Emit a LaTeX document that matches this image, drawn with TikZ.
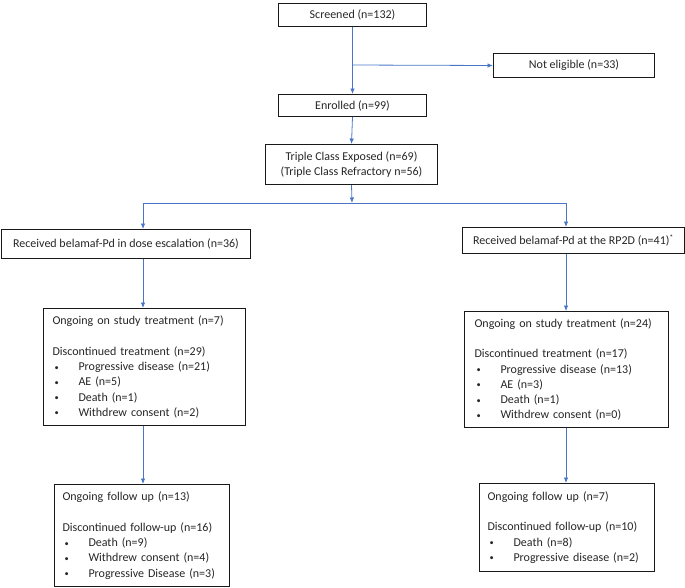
\documentclass[tikz,border=0pt]{standalone}
\usepackage{fontspec}
\setmainfont{Carlito}
\usetikzlibrary{arrows.meta,calc}
\definecolor{flow}{HTML}{4A76C8}
\newcommand{\bul}[1]{\makebox[26pt][l]{\hspace{2pt}\raisebox{0.5pt}{\scalebox{0.7}{•}}}#1}
\begin{document}
\begin{tikzpicture}[x=1pt,y=-1pt,
  box/.style={draw=black!90,line width=1pt,inner ysep=0pt,text=black!85,font=\fontsize{12}{15.3}\selectfont},
  cbox/.style={box,align=center,anchor=north west},
  lbox/.style={box,align=left,anchor=north west,inner xsep=#1},
  flowarrow/.style={draw=flow,line width=0.8pt,-{Latex[length=5.5pt,width=4.5pt]}},
  flowline/.style={draw=flow,line width=0.8pt}]
\useasboundingbox (0,0) rectangle (685,587);
\node[cbox,minimum width=148pt,minimum height=23pt] (scr) at (278,3) {Screened (n=132)};
\node[cbox,minimum width=161pt,minimum height=24pt] (ne) at (493,53) {Not eligible (n=33)};
\node[cbox,minimum width=148pt,minimum height=22pt] (enr) at (278,94) {Enrolled (n=99)};
\node[cbox,minimum width=172pt,minimum height=40pt] (tri) at (265,144) {Triple Class Exposed (n=69)\\(Triple Class Refractory n=56)};
\node[cbox,minimum width=249pt,minimum height=29pt] (lr) at (1,229) {Received belamaf-Pd in dose escalation (n=36)};
\node[cbox,minimum width=222pt,minimum height=26pt] (rr) at (462,227) {Received belamaf-Pd at the RP2D (n=41)\textsuperscript{*}};
\node[lbox=9pt,text width=184pt,minimum height=117pt] (lo) at (43,308) {Ongoing on study treatment (n=7)\\[15.3pt]Discontinued treatment (n=29)\\\bul{Progressive disease (n=21)}\\\bul{AE (n=5)}\\\bul{Death (n=1)}\\\bul{Withdrew consent (n=2)}};
\node[lbox=10pt,text width=184pt,minimum height=116pt] (ro) at (464,311) {Ongoing on study treatment (n=24)\\[15.3pt]Discontinued treatment (n=17)\\\bul{Progressive disease (n=13)}\\\bul{AE (n=3)}\\\bul{Death (n=1)}\\\bul{Withdrew consent (n=0)}};
\node[lbox=8pt,text width=159pt,minimum height=102pt] (lf) at (54,484) {Ongoing follow up (n=13)\\[15.3pt]Discontinued follow-up (n=16)\\\bul{Death (n=9)}\\\bul{Withdrew consent (n=4)}\\\bul{Progressive Disease (n=3)}};
\node[lbox=8pt,text width=159pt,minimum height=88pt] (rf) at (479,483) {Ongoing follow up (n=7)\\[15.3pt]Discontinued follow-up (n=10)\\\bul{Death (n=8)}\\\bul{Progressive disease (n=2)}};
\coordinate (br) at (352,65);
\coordinate (split) at (352,203);
\coordinate (jl) at (143,203);
\coordinate (jr) at (566,203);
\draw[flowarrow] (scr.south) -- (enr.north);
\draw[flowarrow] (br) -- (ne.west);
\draw[flowarrow] (enr.south) -- (tri.north);
\draw[flowarrow] (tri.south) -- (split);
\draw[flowline] (jl) -- (jr);
\draw[flowarrow] (jl) -- (jl |- lr.north);
\draw[flowarrow] (jr) -- (jr |- rr.north);
\draw[flowarrow] (jl |- lr.south) -- (jl |- lo.north);
\draw[flowarrow] (jr |- rr.south) -- (jr |- ro.north);
\draw[flowarrow] (jl |- lo.south) -- (jl |- lf.north);
\draw[flowarrow] (jr |- ro.south) -- (jr |- rf.north);
\end{tikzpicture}
\end{document}
